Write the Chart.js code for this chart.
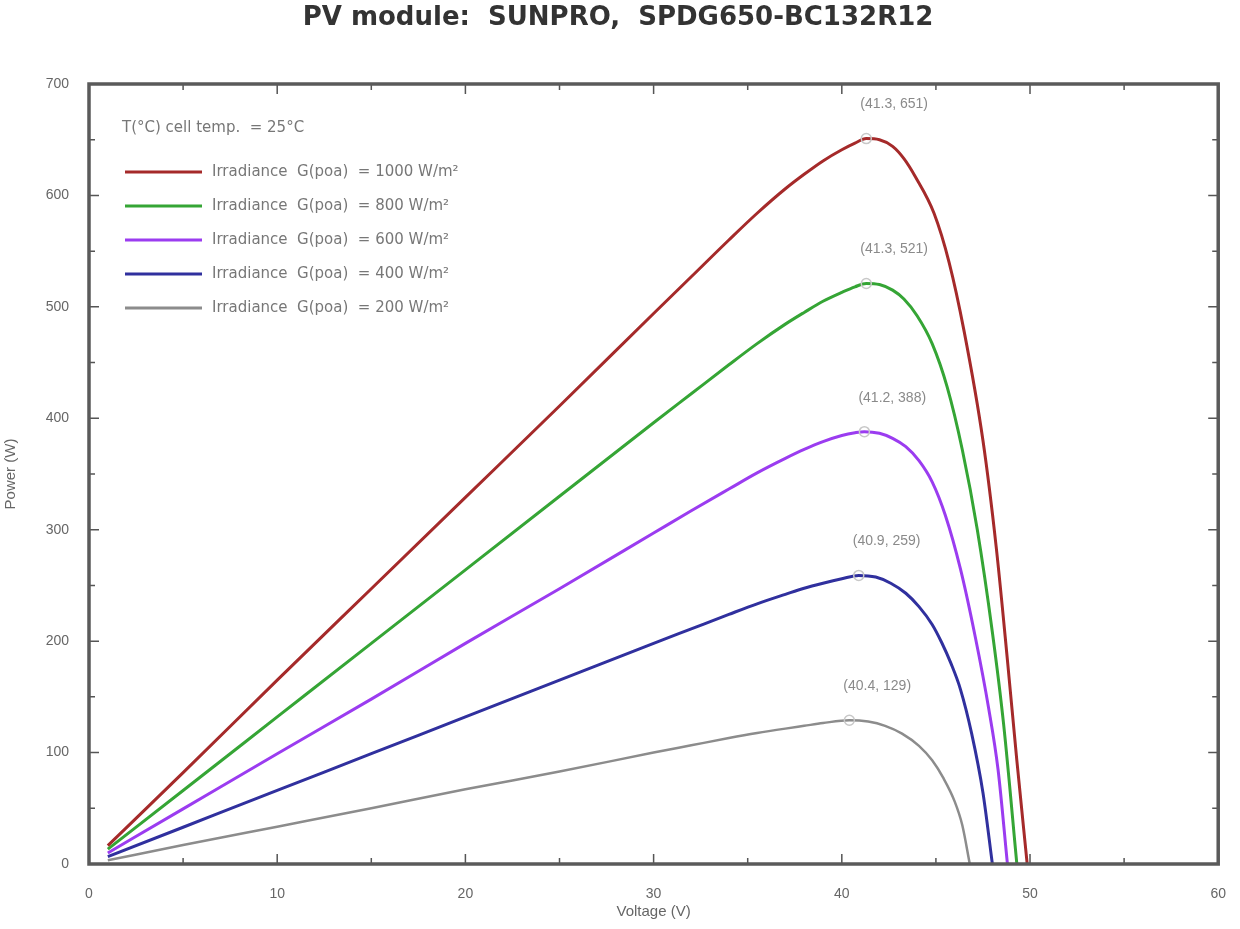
<!DOCTYPE html>
<html>
<head>
<meta charset="utf-8">
<script src="https://cdn.jsdelivr.net/npm/chart.js@4.4.0/dist/chart.umd.min.js"></script>
<style>
  body { margin: 0; background: #fff; }
  #wrap { width: 1240px; height: 929px; position: relative; }
</style>
</head>
<body>
<div id="wrap"><canvas id="pvChart"></canvas></div>
<script>
// P-V curves (voltage in V, power in W)
const irradiances = [1000, 800, 600, 400, 200];
const seriesColors = ['#a52a2a', '#35a535', '#9b3cf0', '#30309e', '#8c8c8c'];

const v1000 = [1, 5, 10, 15, 20, 25, 30, 32, 34, 35.5, 37, 38, 39, 40, 40.7, 41.3, 42, 42.7, 43.3, 43.9, 44.9, 45.7, 46.5, 47.5, 48.2, 48.8, 49.3, 49.85];
const p1000 = [16.5, 82, 165, 247, 329, 411, 494, 527, 560, 584, 606, 619, 631, 641, 647, 651, 650, 644, 633, 617, 584, 540, 478, 380, 285, 183, 93, 0];

const v800 = [1, 5, 10, 15, 20, 25, 30, 32, 34, 35.5, 37, 38, 39, 40, 40.7, 41.3, 42, 42.7, 43.3, 44, 44.8, 45.6, 46.4, 47.2, 48, 48.6, 49.3];
const p800 = [13.3, 66, 132, 198, 264, 330, 396, 422, 448, 467, 484.5, 495, 505, 513, 518, 521, 520, 515, 507, 492, 467, 428, 372, 300, 208, 125, 0];

const v600 = [1, 5, 10, 15, 20, 25, 30, 32, 34, 35.5, 37, 38, 39, 40, 40.7, 41.2, 42, 42.7, 43.4, 44.1, 44.8, 45.5, 46.3, 47.1, 47.8, 48.3, 48.8];
const p600 = [9.9, 49.5, 99, 148, 198, 247, 297, 317, 336.5, 351, 364, 372, 379, 384.5, 387, 388, 386.5, 382, 374.5, 362, 343, 313, 265, 203, 140, 85, 0];

const v400 = [1, 5, 10, 15, 20, 25, 30, 32, 34, 35.5, 37, 38, 39, 40, 40.9, 41.8, 42.6, 43.4, 44.1, 44.8, 45.3, 45.8, 46.3, 46.9, 47.5, 48];
const p400 = [6.6, 33, 66, 99, 132, 165, 198, 211, 224, 233.5, 242, 247.5, 252, 256, 259, 257.5, 252, 243, 231, 215, 199, 180, 157, 117, 64, 0];

const v200 = [1, 5, 10, 15, 20, 25, 30, 32, 34, 35.5, 37, 38, 39, 40.4, 41.4, 42.3, 43.2, 44.1, 44.8, 45.4, 46, 46.4, 46.8];
const p200 = [3.3, 17, 33.5, 50, 67, 83, 100, 106.5, 113, 117.5, 121.5, 124, 126.5, 129, 127.8, 124, 117, 106, 93, 77, 56, 35, 0];

const voltages = [v1000, v800, v600, v400, v200];
const powers = [p1000, p800, p600, p400, p200];

const xTicks = [0, 10, 20, 30, 40, 50, 60];
const yTicks = [0, 100, 200, 300, 400, 500, 600, 700];

const titleText = 'PV module:  SUNPRO,  SPDG650-BC132R12';
const legendHeader = 'T(°C) cell temp.  = 25°C';

const FONT = "'Liberation Sans', Arial, sans-serif";
const LEG_FONT = "'DejaVu Sans', sans-serif";

const datasets = irradiances.map((g, i) => ({
  label: 'Irradiance  G(poa)  = ' + g + ' W/m²',
  data: voltages[i].map((v, k) => ({ x: v, y: powers[i][k] })),
  borderColor: seriesColors[i],
  borderWidth: i === 4 ? 2.5 : 3,
  pointRadius: 0,
  cubicInterpolationMode: 'monotone',
  fill: false
}));

// frame, inward ticks, title, legend and peak labels
const decorations = {
  id: 'decorations',
  afterDatasetsDraw(chart) {
    const { ctx, chartArea: a, scales: { x, y } } = chart;
    ctx.save();

    // peak markers + labels
    chart.data.datasets.forEach((ds) => {
      let best = ds.data[0];
      ds.data.forEach(p => { if (p.y > best.y) best = p; });
      const px = x.getPixelForValue(best.x);
      const py = y.getPixelForValue(best.y);
      ctx.strokeStyle = '#c8c8c8';
      ctx.lineWidth = 1.5;
      ctx.beginPath();
      ctx.arc(px, py, 5, 0, Math.PI * 2);
      ctx.stroke();
      ctx.fillStyle = '#8a8a8a';
      ctx.font = '14px ' + FONT;
      ctx.textAlign = 'left';
      ctx.textBaseline = 'middle';
      ctx.fillText('(' + best.x.toFixed(1) + ', ' + Math.round(best.y) + ')', px - 6, py - 34);
    });

    // inward ticks on all four sides
    ctx.strokeStyle = '#555';
    ctx.lineWidth = 1.5;
    for (let v = 0; v <= 60; v += 5) {
      const len = v % 10 === 0 ? 10 : 6;
      const px = x.getPixelForValue(v);
      ctx.beginPath();
      ctx.moveTo(px, a.bottom); ctx.lineTo(px, a.bottom - len);
      ctx.moveTo(px, a.top); ctx.lineTo(px, a.top + len);
      ctx.stroke();
    }
    for (let v = 0; v <= 700; v += 50) {
      const len = v % 100 === 0 ? 10 : 6;
      const py = y.getPixelForValue(v);
      ctx.beginPath();
      ctx.moveTo(a.left, py); ctx.lineTo(a.left + len, py);
      ctx.moveTo(a.right, py); ctx.lineTo(a.right - len, py);
      ctx.stroke();
    }

    // plot box
    ctx.strokeStyle = '#5a5a5a';
    ctx.lineWidth = 3.5;
    ctx.strokeRect(a.left, a.top, a.right - a.left, a.bottom - a.top);

    // legend inside the axes
    ctx.font = '15px ' + LEG_FONT;
    ctx.fillStyle = '#777';
    ctx.textAlign = 'left';
    ctx.textBaseline = 'middle';
    ctx.fillText(legendHeader, 122, 128);
    chart.data.datasets.forEach((ds, i) => {
      const ly = 172 + i * 34;
      ctx.strokeStyle = ds.borderColor;
      ctx.lineWidth = 3;
      ctx.beginPath();
      ctx.moveTo(125, ly); ctx.lineTo(202, ly);
      ctx.stroke();
      ctx.fillStyle = '#777';
      ctx.fillText(ds.label, 212, ly);
    });

    // title
    ctx.font = "bold 26px 'DejaVu Sans', sans-serif";
    ctx.fillStyle = '#333';
    ctx.textAlign = 'center';
    ctx.fillText(titleText, 618, 18);
    ctx.restore();
  }
};

new Chart(document.getElementById('pvChart'), {
  type: 'line',
  data: { datasets },
  options: {
    responsive: true,
    maintainAspectRatio: false,
    animation: false,
    layout: { padding: { top: 84, right: 20, left: 0, bottom: 0 } },
    plugins: {
      legend: { display: false },
      tooltip: { enabled: false },
      title: { display: false }
    },
    scales: {
      x: {
        type: 'linear',
        min: 0,
        max: 60,
        afterFit: s => { s.height = 65; },
        afterBuildTicks: s => { s.ticks = xTicks.map(v => ({ value: v })); },
        grid: { display: false },
        border: { display: false },
        ticks: { color: '#666', padding: 14, font: { family: FONT, size: 14 } },
        title: { display: true, text: 'Voltage (V)', color: '#666', padding: { top: 0, bottom: 8 }, font: { family: FONT, size: 15 } }
      },
      y: {
        min: 0,
        max: 700,
        afterFit: s => { s.width = 89; },
        afterBuildTicks: s => { s.ticks = yTicks.map(v => ({ value: v })); },
        grid: { display: false },
        border: { display: false },
        ticks: { color: '#666', padding: 12, font: { family: FONT, size: 14 } },
        title: { display: true, text: 'Power (W)', color: '#666', padding: { top: 2, bottom: 0 }, font: { family: FONT, size: 15 } }
      }
    }
  },
  plugins: [decorations]
});
</script>
</body>
</html>
